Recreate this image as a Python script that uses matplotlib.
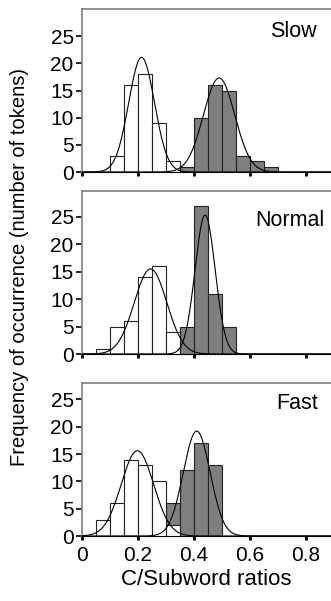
import matplotlib.pyplot as plt
import numpy as np

plt.rcParams['font.family'] = ['Liberation Sans', 'DejaVu Sans']

# bin left edges (bin width 0.05)
bins_white = [0.05, 0.10, 0.15, 0.20, 0.25, 0.30]
bins_gray = [0.30, 0.35, 0.40, 0.45, 0.50, 0.55, 0.60, 0.65]

panels = ['Slow', 'Normal', 'Fast']

white_counts = {
    'Slow':   [0, 3, 16, 18, 9, 2],
    'Normal': [1, 5, 6, 14, 16, 4],
    'Fast':   [3, 6, 14, 13, 10, 2],
}
gray_counts = {
    'Slow':   [0, 1, 10, 16, 15, 3, 2, 1],
    'Normal': [0, 5, 27, 11, 5, 0, 0, 0],
    'Fast':   [6, 12, 17, 13, 0, 0, 0, 0],
}

# fitted normal curves: (peak height, mean, sd)
white_fit = {'Slow': (21.1, 0.213, 0.046), 'Normal': (15.5, 0.245, 0.058), 'Fast': (15.6, 0.198, 0.058)}
gray_fit = {'Slow': (17.3, 0.490, 0.056), 'Normal': (25.3, 0.440, 0.036), 'Fast': (19.2, 0.410, 0.048)}

ymax = {'Slow': 30, 'Normal': 29.7, 'Fast': 28}
label_pos = {'Slow': (0.847, 0.859), 'Normal': (0.835, 0.822), 'Fast': (0.863, 0.869)}

W, H = 331, 601
fig = plt.figure(figsize=(W / 100, H / 100), dpi=100)

# axes boxes in pixels: (top, bottom)
boxes = {'Slow': (9, 172), 'Normal': (191, 354), 'Fast': (383, 536)}
left_px = 82

xs = np.linspace(0, 0.9, 400)
for name in panels:
    top, bot = boxes[name]
    ax = fig.add_axes([left_px / W, 1 - bot / H, (W - left_px) / W, (bot - top) / H])

    ax.bar(bins_gray, gray_counts[name], width=0.05, align='edge',
           color='#7f7f7f', edgecolor='#222222', linewidth=0.8, zorder=2)
    ax.bar(bins_white, white_counts[name], width=0.05, align='edge',
           color='white', edgecolor='#222222', linewidth=0.8, zorder=3)

    for a, m, s in (white_fit[name], gray_fit[name]):
        ax.plot(xs, a * np.exp(-0.5 * ((xs - m) / s) ** 2), color='black', lw=0.8, zorder=4)

    ax.set_xlim(0, 0.89)
    ax.set_ylim(0, ymax[name])
    ax.set_yticks([0, 5, 10, 15, 20, 25])
    ax.set_xticks([0, 0.2, 0.4, 0.6, 0.8])
    if name == 'Fast':
        ax.set_xticklabels(['0', '0.2', '0.4', '0.6', '0.8'])
        ax.set_xlabel('C/Subword ratios', fontsize=16, labelpad=3)
    else:
        ax.set_xticklabels([])
    ax.tick_params(axis='y', labelsize=15, length=4, width=1.2, pad=2)
    ax.tick_params(axis='x', labelsize=15, length=3, width=2, pad=4)

    ax.spines['right'].set_visible(False)
    ax.spines['left'].set_color('#808080')
    ax.spines['top'].set_color('#808080')
    ax.spines['bottom'].set_color('black')
    ax.spines['left'].set_linewidth(1.2)
    ax.spines['top'].set_linewidth(1.2)

    lx, ly = label_pos[name]
    ax.text(lx, ly, name, transform=ax.transAxes, ha='center', va='center', fontsize=15.5)

fig.text(20 / W, 1 - 267 / H, 'Frequency of occurrence (number of tokens)',
         rotation=90, ha='center', va='center', fontsize=14.5)

fig.savefig('out.png', dpi=100)
